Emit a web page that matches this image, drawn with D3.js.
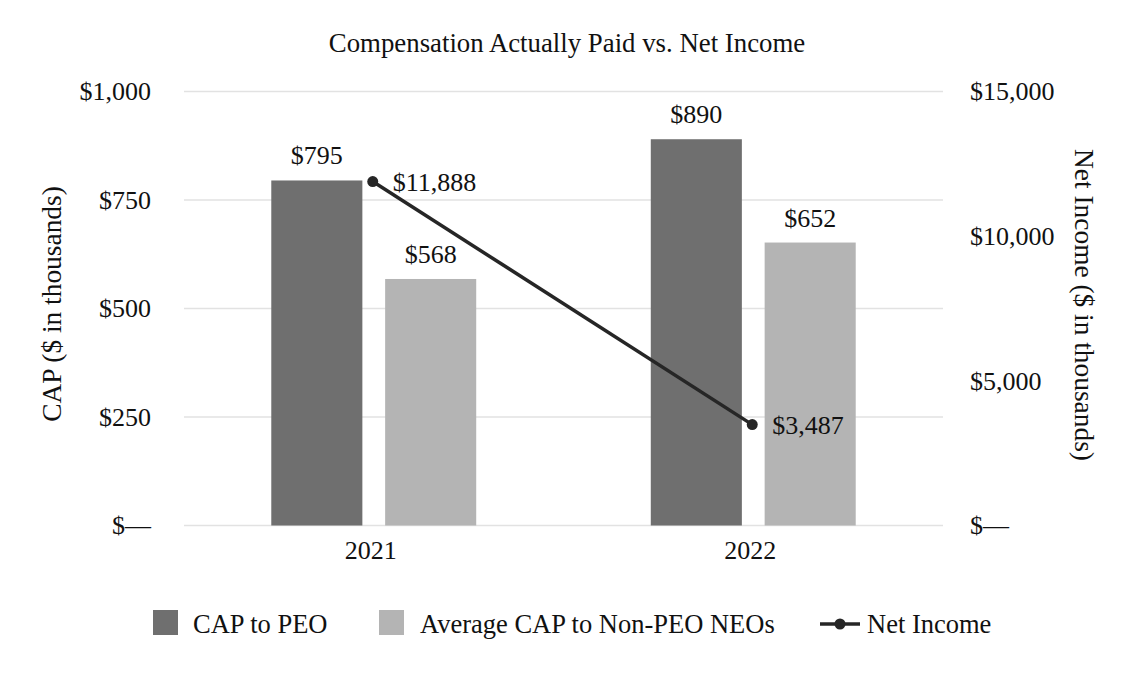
<!DOCTYPE html>
<html>
<head>
<meta charset="utf-8">
<script src="https://cdn.jsdelivr.net/npm/d3@7"></script>
<style>
  body { margin: 0; background: #fff; }
  text { font-family: "Liberation Serif", "Times New Roman", serif; fill: #111; }
</style>
</head>
<body>
<script>
// Chart data
var years = ["2021", "2022"];
var seriesNames = ["CAP to PEO", "Average CAP to Non-PEO NEOs"];
var capPeo = [795, 890];
var capNonPeo = [568, 652];
var netIncome = [11888, 3487];
var leftTicks = [0, 250, 500, 750, 1000];
var rightTicks = [0, 5000, 10000, 15000];

var svgWidth = 1140;
var svgHeight = 680;
var fontSize = 26;
var barColors = ["#6f6f6f", "#b4b4b4"];
var lineColor = "#262626";

var plot = { left: 184, right: 943, top: 91.5, bottom: 525.5 };

var svg = d3.select("body")
  .append("svg")
  .attr("width", svgWidth)
  .attr("height", svgHeight);

// scales
var x0 = d3.scaleBand()
  .domain(years)
  .range([plot.left, plot.right])
  .paddingInner(0.46)
  .paddingOuter(0.23);

var x1 = d3.scaleBand()
  .domain(seriesNames)
  .range([0, x0.bandwidth()])
  .paddingInner(0.2);

var yLeft = d3.scaleLinear().domain([0, 1000]).range([plot.bottom, plot.top]);
var yRight = d3.scaleLinear().domain([0, 15000]).range([plot.bottom, plot.top]);

var money = function (v) { return v === 0 ? "$\u2014" : "$" + d3.format(",")(v); };

// title
svg.append("text")
  .attr("x", 567)
  .attr("y", 52)
  .attr("text-anchor", "middle")
  .style("font-size", "26.8px")
  .text("Compensation Actually Paid vs. Net Income");

// gridlines
svg.append("g").selectAll("line")
  .data(leftTicks)
  .enter()
  .append("line")
  .attr("x1", plot.left)
  .attr("x2", plot.right)
  .attr("y1", d => yLeft(d))
  .attr("y2", d => yLeft(d))
  .attr("stroke", "#e2e2e2")
  .attr("stroke-width", 1.5);

// left axis
var leftAxis = d3.axisLeft(yLeft).tickValues(leftTicks).tickFormat(money).tickSize(0).tickPadding(0);
var gLeft = svg.append("g")
  .attr("transform", "translate(151,0)")
  .call(leftAxis);
gLeft.select(".domain").remove();
gLeft.selectAll("text")
  .style("font-size", fontSize + "px")
  .style("font-family", "Liberation Serif, serif")
  .attr("fill", "#111");

// right axis
var rightAxis = d3.axisRight(yRight).tickValues(rightTicks).tickFormat(money).tickSize(0).tickPadding(0);
var gRight = svg.append("g")
  .attr("transform", "translate(970,0)")
  .call(rightAxis);
gRight.select(".domain").remove();
gRight.selectAll("text")
  .style("font-size", fontSize + "px")
  .style("font-family", "Liberation Serif, serif")
  .attr("fill", "#111");

// bottom axis
var bottomAxis = d3.axisBottom(x0).tickSize(0).tickPadding(0);
var gBottom = svg.append("g")
  .attr("transform", "translate(-3,541)")
  .call(bottomAxis);
gBottom.select(".domain").remove();
gBottom.selectAll("text")
  .style("font-size", fontSize + "px")
  .style("font-family", "Liberation Serif, serif")
  .attr("fill", "#111");

// axis titles
svg.append("text")
  .attr("transform", "translate(61,304) rotate(-90)")
  .attr("text-anchor", "middle")
  .style("font-size", "27.4px")
  .text("CAP ($ in thousands)");

svg.append("text")
  .attr("transform", "translate(1075,305) rotate(90)")
  .attr("text-anchor", "middle")
  .style("font-size", "27.4px")
  .text("Net Income ($ in thousands)");

// bars
var barData = [];
years.forEach(function (yr, i) {
  barData.push({ year: yr, series: seriesNames[0], value: capPeo[i], color: barColors[0] });
  barData.push({ year: yr, series: seriesNames[1], value: capNonPeo[i], color: barColors[1] });
});

svg.selectAll(".bar")
  .data(barData)
  .enter()
  .append("rect")
  .attr("class", "bar")
  .attr("x", d => x0(d.year) + x1(d.series))
  .attr("y", d => yLeft(d.value))
  .attr("width", x1.bandwidth())
  .attr("height", d => plot.bottom - yLeft(d.value))
  .attr("fill", d => d.color);

svg.selectAll(".barLabel")
  .data(barData)
  .enter()
  .append("text")
  .attr("class", "barLabel")
  .attr("x", d => x0(d.year) + x1(d.series) + x1.bandwidth() / 2)
  .attr("y", d => yLeft(d.value) - 16)
  .attr("text-anchor", "middle")
  .style("font-size", fontSize + "px")
  .text(d => money(d.value));

// net income line
var lineData = years.map((yr, i) => ({ year: yr, value: netIncome[i] }));
var cx = d => x0(d.year) + x0.bandwidth() / 2 - 1;

svg.append("path")
  .datum(lineData)
  .attr("fill", "none")
  .attr("stroke", lineColor)
  .attr("stroke-width", 3.5)
  .attr("d", d3.line().x(cx).y(d => yRight(d.value)));

svg.selectAll(".dot")
  .data(lineData)
  .enter()
  .append("circle")
  .attr("class", "dot")
  .attr("cx", cx)
  .attr("cy", d => yRight(d.value))
  .attr("r", 5.5)
  .attr("fill", lineColor);

svg.selectAll(".lineLabel")
  .data(lineData)
  .enter()
  .append("text")
  .attr("class", "lineLabel")
  .attr("x", d => cx(d) + 20)
  .attr("y", d => yRight(d.value) + 9)
  .style("font-size", fontSize + "px")
  .text(d => money(d.value));

// legend
var legend = svg.append("g");
var legendItems = [
  { name: seriesNames[0], type: "rect", color: barColors[0], x: 153, tx: 193 },
  { name: seriesNames[1], type: "rect", color: barColors[1], x: 379, tx: 420 },
  { name: "Net Income", type: "line", color: lineColor, x: 820, tx: 867 }
];

legendItems.forEach(function (item) {
  if (item.type === "rect") {
    legend.append("rect")
      .attr("x", item.x)
      .attr("y", 610)
      .attr("width", 25)
      .attr("height", 25)
      .attr("fill", item.color);
  } else {
    legend.append("line")
      .attr("x1", item.x)
      .attr("x2", item.x + 40)
      .attr("y1", 624)
      .attr("y2", 624)
      .attr("stroke", item.color)
      .attr("stroke-width", 3.5);
    legend.append("circle")
      .attr("cx", item.x + 20)
      .attr("cy", 624)
      .attr("r", 5.5)
      .attr("fill", item.color);
  }
  legend.append("text")
    .attr("x", item.tx)
    .attr("y", 633)
    .style("font-size", "26.5px")
    .text(item.name);
});
</script>
</body>
</html>
